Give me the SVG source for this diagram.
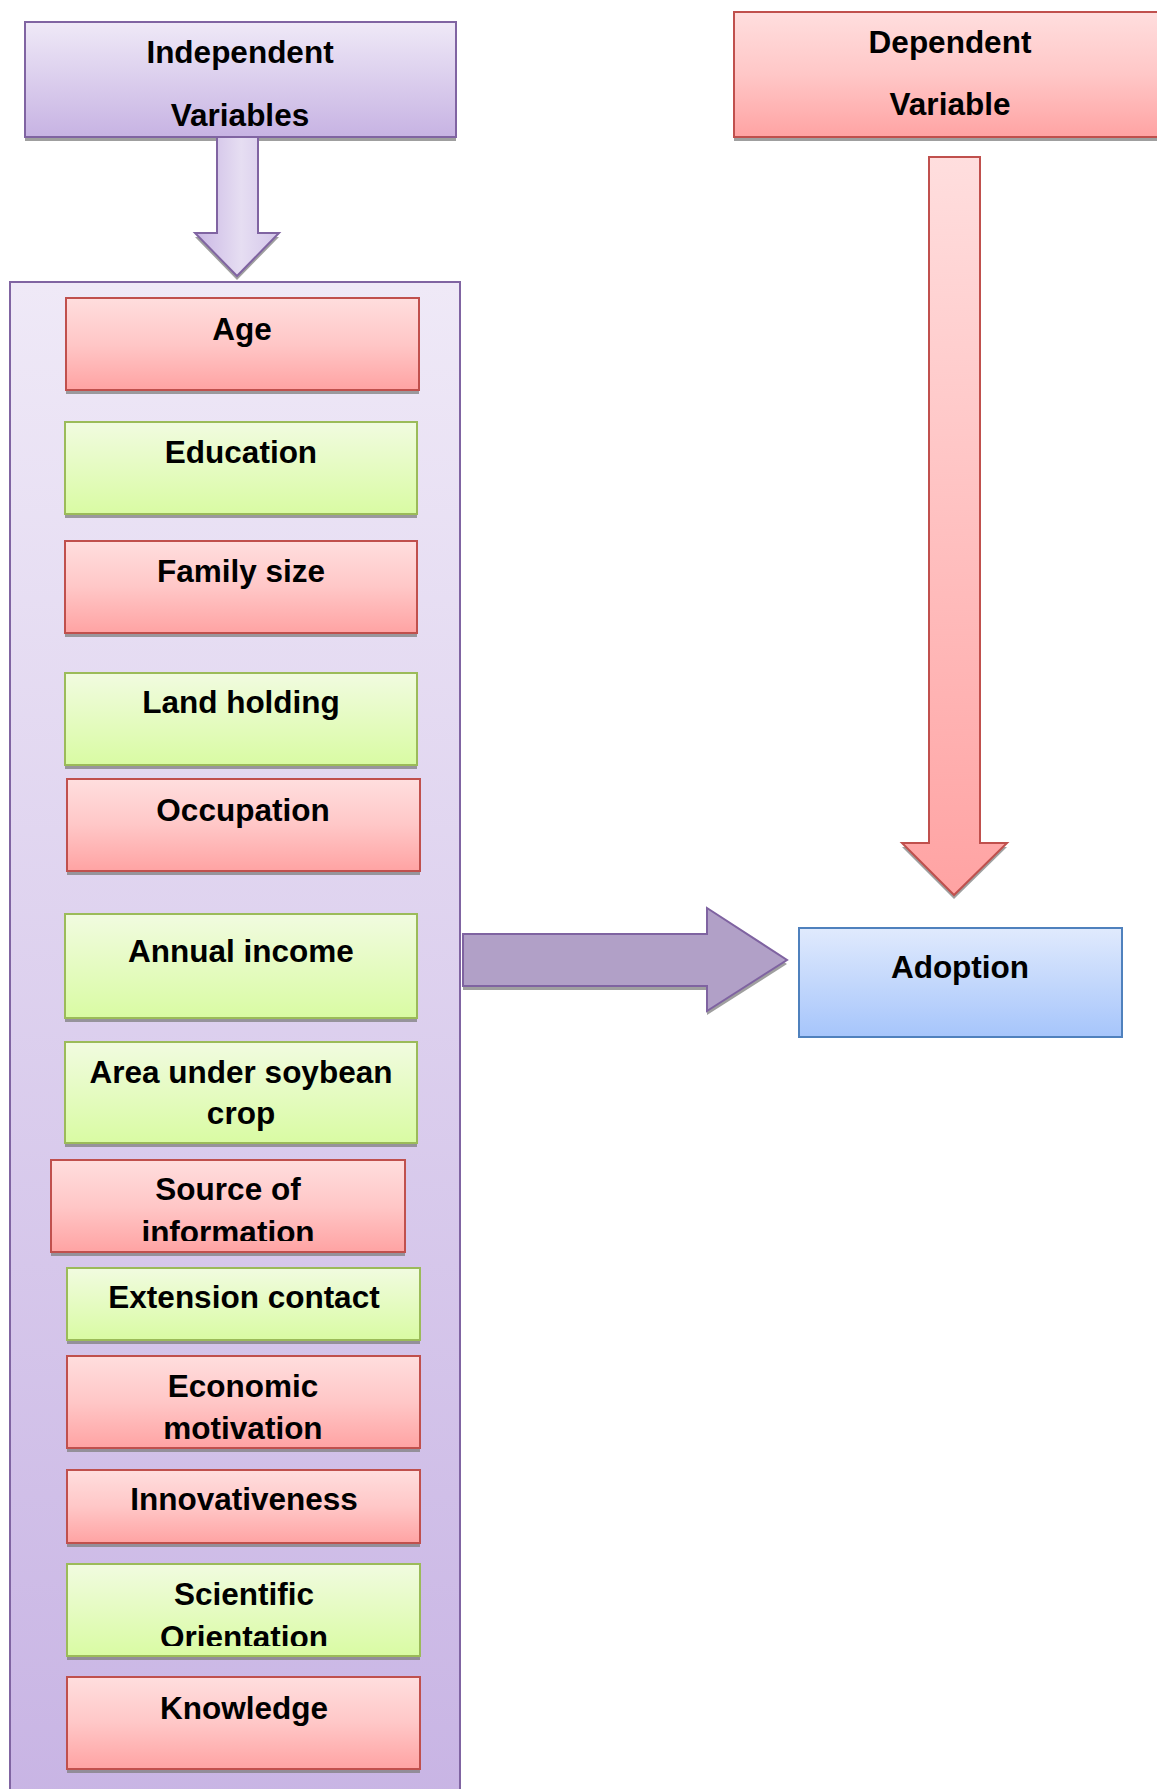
<svg xmlns="http://www.w3.org/2000/svg" xmlns:xlink="http://www.w3.org/1999/xlink" width="1157" height="1789" viewBox="0 0 1157 1789">
<style>
  .t { font-family: "Liberation Sans", Arial, sans-serif; font-weight: bold; font-size: 31.5px; fill: #000; text-anchor: middle; }
  .red { fill: url(#gRed); stroke: #c0504d; stroke-width: 2; }
  .green { fill: url(#gGreen); stroke: #9bbb59; stroke-width: 2; }
  .blue { fill: url(#gBlue); stroke: #4f81bd; stroke-width: 2; }
  .purp { fill: url(#gPurp); stroke: #8064a2; stroke-width: 2; }
  .sh { fill: #7f7f7f; opacity: 0.75; }
</style>
<defs>
  <linearGradient id="gRed" x1="0" y1="0" x2="0" y2="1">
    <stop offset="0" stop-color="#ffdede"/><stop offset="0.5" stop-color="#ffc7c7"/><stop offset="1" stop-color="#ffa3a3"/>
  </linearGradient>
  <linearGradient id="gGreen" x1="0" y1="0" x2="0" y2="1">
    <stop offset="0" stop-color="#f1fbe0"/><stop offset="1" stop-color="#d9fba3"/>
  </linearGradient>
  <linearGradient id="gBlue" x1="0" y1="0" x2="0" y2="1">
    <stop offset="0" stop-color="#e0eafd"/><stop offset="1" stop-color="#a6c5fb"/>
  </linearGradient>
  <linearGradient id="gPurp" x1="0" y1="0" x2="0" y2="1">
    <stop offset="0" stop-color="#efe9f7"/><stop offset="1" stop-color="#c7b3e3"/>
  </linearGradient>
  <linearGradient id="gCont" x1="0" y1="0" x2="0" y2="1">
    <stop offset="0" stop-color="#efe9f7"/><stop offset="1" stop-color="#c8b4e4"/>
  </linearGradient>
  <linearGradient id="gDown" x1="0" y1="0" x2="1" y2="0">
    <stop offset="0" stop-color="#c9b6e4"/><stop offset="0.55" stop-color="#e6def2"/><stop offset="1" stop-color="#d4c6ea"/>
  </linearGradient>
  <linearGradient id="gRedArrow" x1="0" y1="0" x2="0" y2="1">
    <stop offset="0" stop-color="#ffdede"/><stop offset="1" stop-color="#ffa3a3"/>
  </linearGradient>
  <clipPath id="cSrc"><rect x="51" y="1160" width="354" height="81"/></clipPath>
  <clipPath id="cEco"><rect x="67" y="1356" width="353" height="83"/></clipPath>
  <clipPath id="cSci"><rect x="67" y="1564" width="353" height="82"/></clipPath>
</defs>

<rect x="0" y="0" width="1157" height="1789" fill="#ffffff"/>

<g id="container">
  <rect x="10" y="282" width="450" height="1530" fill="url(#gCont)" stroke="#8064a2" stroke-width="2"/>
</g>

<g id="independent">
  <rect class="sh" x="25" y="26" width="431" height="115"/>
  <rect class="purp" x="25" y="22" width="431" height="115"/>
  <text class="t" x="240" y="63">Independent</text>
  <text class="t" x="240" y="126">Variables</text>
</g>

<g id="dependent">
  <rect class="sh" x="734" y="16" width="430" height="125"/>
  <rect class="red" x="734" y="12" width="430" height="125"/>
  <text class="t" x="950" y="53">Dependent</text>
  <text class="t" x="950" y="115">Variable</text>
</g>

<g id="connectors">
  <polygon class="sh" transform="translate(0,4)" points="217,137 258,137 258,233 279,233 237,276 195,233 217,233"/>
  <polygon points="217,137 258,137 258,233 279,233 237,276 195,233 217,233" fill="url(#gDown)" stroke="#8064a2" stroke-width="2"/>
  <polygon class="sh" transform="translate(0,4)" points="929,157 980,157 980,843 1007,843 954,895 902,843 929,843"/>
  <polygon points="929,157 980,157 980,843 1007,843 954,895 902,843 929,843" fill="url(#gRedArrow)" stroke="#c0504d" stroke-width="2"/>
  <polygon class="sh" transform="translate(0,4)" points="463,934 707,934 707,908 787,960 707,1011 707,986 463,986"/>
  <polygon points="463,934 707,934 707,908 787,960 707,1011 707,986 463,986" fill="#b1a0c7" stroke="#7f63a1" stroke-width="2"/>
</g>

<g id="adoption">
  <rect class="blue" x="799" y="928" width="323" height="109"/>
  <text class="t" x="960" y="978">Adoption</text>
</g>

<g id="age">
  <rect class="sh" x="66" y="302" width="353" height="92"/>
  <rect class="red" x="66" y="298" width="353" height="92"/>
  <text class="t" x="242" y="340">Age</text>
</g>
<g id="education">
  <rect class="sh" x="65" y="426" width="352" height="92"/>
  <rect class="green" x="65" y="422" width="352" height="92"/>
  <text class="t" x="241" y="463">Education</text>
</g>
<g id="family-size">
  <rect class="sh" x="65" y="545" width="352" height="92"/>
  <rect class="red" x="65" y="541" width="352" height="92"/>
  <text class="t" x="241" y="582">Family size</text>
</g>
<g id="land-holding">
  <rect class="sh" x="65" y="677" width="352" height="92"/>
  <rect class="green" x="65" y="673" width="352" height="92"/>
  <text class="t" x="241" y="713">Land holding</text>
</g>
<g id="occupation">
  <rect class="sh" x="67" y="783" width="353" height="92"/>
  <rect class="red" x="67" y="779" width="353" height="92"/>
  <text class="t" x="243" y="821">Occupation</text>
</g>
<g id="annual-income">
  <rect class="sh" x="65" y="918" width="352" height="104"/>
  <rect class="green" x="65" y="914" width="352" height="104"/>
  <text class="t" x="241" y="962">Annual income</text>
</g>
<g id="area-under-soybean-crop">
  <rect class="sh" x="65" y="1046" width="352" height="101"/>
  <rect class="green" x="65" y="1042" width="352" height="101"/>
  <text class="t" x="241" y="1083">Area under soybean</text>
  <text class="t" x="241" y="1124">crop</text>
</g>
<g id="source-of-information">
  <rect class="sh" x="51" y="1164" width="354" height="92"/>
  <rect class="red" x="51" y="1160" width="354" height="92"/>
  <g clip-path="url(#cSrc)">
    <text class="t" x="228" y="1200">Source of</text>
    <text class="t" x="228" y="1243">information</text>
  </g>
</g>
<g id="extension-contact">
  <rect class="sh" x="67" y="1272" width="353" height="72"/>
  <rect class="green" x="67" y="1268" width="353" height="72"/>
  <text class="t" x="244" y="1308">Extension contact</text>
</g>
<g id="economic-motivation">
  <rect class="sh" x="67" y="1360" width="353" height="92"/>
  <rect class="red" x="67" y="1356" width="353" height="92"/>
  <g clip-path="url(#cEco)">
    <text class="t" x="243" y="1397">Economic</text>
    <text class="t" x="243" y="1439">motivation</text>
  </g>
</g>
<g id="innovativeness">
  <rect class="sh" x="67" y="1474" width="353" height="73"/>
  <rect class="red" x="67" y="1470" width="353" height="73"/>
  <text class="t" x="244" y="1510">Innovativeness</text>
</g>
<g id="scientific-orientation">
  <rect class="sh" x="67" y="1568" width="353" height="92"/>
  <rect class="green" x="67" y="1564" width="353" height="92"/>
  <g clip-path="url(#cSci)">
    <text class="t" x="244" y="1605">Scientific</text>
    <text class="t" x="244" y="1648">Orientation</text>
  </g>
</g>
<g id="knowledge">
  <rect class="sh" x="67" y="1681" width="353" height="92"/>
  <rect class="red" x="67" y="1677" width="353" height="92"/>
  <text class="t" x="244" y="1719">Knowledge</text>
</g>
</svg>
